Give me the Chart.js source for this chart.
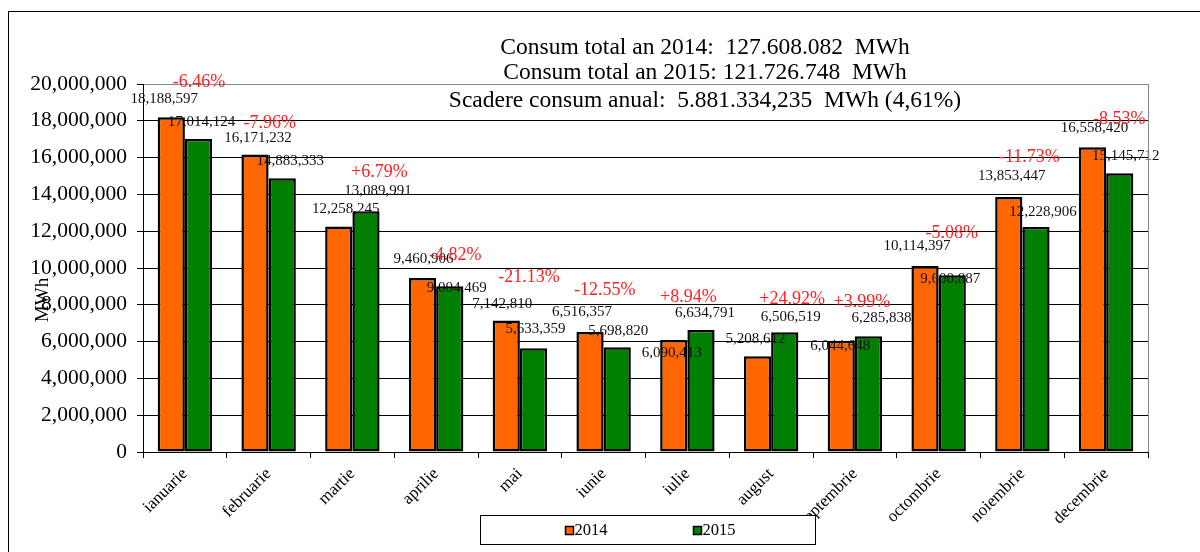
<!DOCTYPE html>
<html>
<head>
<meta charset="utf-8">
<script src="https://cdn.jsdelivr.net/npm/chart.js@4"></script>
<style>
  html, body { margin: 0; padding: 0; background: #fff; }
  #wrap { width: 1200px; height: 552px; position: relative; }
</style>
</head>
<body>
<div id="wrap"><canvas id="myChart" width="1200" height="552"></canvas></div>
<script>
const luni = ['ianuarie', 'februarie', 'martie', 'aprilie', 'mai', 'iunie',
  'iulie', 'august', 'septembrie', 'octombrie', 'noiembrie', 'decembrie'];

const consum2014 = [18188597, 16171232, 12258245, 9460906, 7142810, 6516357,
  6090413, 5208612, 6044648, 10114397, 13853447, 16558420];
const consum2015 = [17014124, 14883333, 13089991, 9004469, 5633359, 5698820,
  6634791, 6506519, 6285838, 9600887, 12228906, 15145712];

const variatie = ['-6.46%', '-7.96%', '+6.79%', '-4.82%', '-21.13%', '-12.55%',
  '+8.94%', '+24.92%', '+3.99%', '-5.08%', '-11.73%', '-8.53%'];

const yMin = 0;
const yMax = 20000000;
const yPas = 2000000;

const titlu = [
  'Consum total an 2014:  127.608.082  MWh',
  'Consum total an 2015: 121.726.748  MWh',
  'Scadere consum anual:  5.881.334,235  MWh (4,61%)'
];

// etichetele au fost mutate de mana, deplasari [dx, dy] in pixeli
const mutare2014 = [[-7,-1],[3,1],[7,0],[1,-2],[-4,0],[-8,-3],[-2,30],[-2,0],[-1,22],[-8,-3],[3,-4],[2,-2]];
const mutare2015 = [[3,0],[8,0],[12,-3],[7,19],[2,-2],[1,1],[4,0],[6,2],[13,-1],[-2,21],[7,2],[6,0]];
const mutareProc = [[14,0],[1,4],[27,-4],[19,12],[9,-8],[1,-7],[1,2],[21,2],[7,1],[13,2],[7,-5],[13,7]];

const SERIF = '"Liberation Serif", "Times New Roman", serif';
const PORTOCALIU = '#ff6600';
const VERDE = '#008000';

const fmt = v => v.toLocaleString('en-US');

const etichete = {
  id: 'etichete',
  afterDatasetsDraw(chart) {
    const ctx = chart.ctx;
    const m0 = chart.getDatasetMeta(0).data;
    const m1 = chart.getDatasetMeta(1).data;
    const xs = chart.scales.x;
    ctx.save();
    ctx.textAlign = 'center';
    ctx.textBaseline = 'middle';
    ctx.font = '15px ' + SERIF;
    ctx.fillStyle = '#111';
    m0.forEach((b, i) => {
      ctx.fillText(fmt(consum2014[i]), b.x + mutare2014[i][0], b.y - 17 + mutare2014[i][1]);
    });
    m1.forEach((b, i) => {
      ctx.fillText(fmt(consum2015[i]), b.x + mutare2015[i][0], b.y - 17 + mutare2015[i][1]);
    });
    ctx.font = '18px ' + SERIF;
    ctx.fillStyle = '#ff2020';
    luni.forEach((l, i) => {
      const cx = xs.getPixelForValue(i);
      const top = Math.min(m0[i].y, m1[i].y);
      ctx.fillText(variatie[i], cx + mutareProc[i][0], top - 35 + mutareProc[i][1]);
    });
    ctx.restore();
  },
  afterDraw(chart) {
    const ctx = chart.ctx;
    const a = chart.chartArea;
    ctx.save();
    // marginea din dreapta a zonei de desen
    ctx.strokeStyle = '#888';
    ctx.lineWidth = 1;
    ctx.beginPath();
    ctx.moveTo(a.right + 0.5, a.top);
    ctx.lineTo(a.right + 0.5, a.bottom);
    ctx.stroke();

    // chenarul exterior
    ctx.strokeStyle = '#000';
    ctx.strokeRect(8.5, 11.5, 1300, 700);

    // titlul pe trei randuri
    ctx.fillStyle = '#000';
    ctx.font = '23.5px ' + SERIF;
    ctx.textAlign = 'center';
    ctx.textBaseline = 'middle';
    [48, 73, 101].forEach((y, i) => ctx.fillText(titlu[i], 705, y));

    // titlul axei Y
    ctx.save();
    ctx.translate(43, 300);
    ctx.rotate(-Math.PI / 2);
    ctx.font = '19px ' + SERIF;
    ctx.fillText('MWh', 0, 0);
    ctx.restore();

    // legenda
    ctx.fillStyle = '#fff';
    ctx.fillRect(480.5, 515.5, 335, 29);
    ctx.strokeStyle = '#000';
    ctx.strokeRect(480.5, 515.5, 335, 29);
    const items = [[565, '2014', PORTOCALIU], [693, '2015', VERDE]];
    ctx.font = '16.5px ' + SERIF;
    ctx.textAlign = 'left';
    items.forEach(([x, t, c]) => {
      ctx.fillStyle = c;
      ctx.fillRect(x + 0.5, 526.5, 8, 8);
      ctx.strokeStyle = '#000';
      ctx.lineWidth = 1.5;
      ctx.strokeRect(x + 0.5, 526.5, 8, 8);
      ctx.fillStyle = '#000';
      ctx.fillText(t, x + 9.5, 531);
    });
    ctx.restore();
  }
};

new Chart(document.getElementById('myChart'), {
  type: 'bar',
  data: {
    labels: luni,
    datasets: [
      { label: '2014', data: consum2014, backgroundColor: PORTOCALIU, borderColor: '#000',
        borderWidth: 2.5, borderSkipped: false, categoryPercentage: 0.65, barPercentage: 1 },
      { label: '2015', data: consum2015, backgroundColor: VERDE, borderColor: '#000',
        borderWidth: 2.5, borderSkipped: false, categoryPercentage: 0.65, barPercentage: 1 }
    ]
  },
  options: {
    responsive: false,
    animation: false,
    devicePixelRatio: 1,
    layout: { padding: { left: 0, right: 52, top: 84, bottom: 0 } },
    plugins: {
      legend: { display: false },
      title: { display: false },
      tooltip: { enabled: false }
    },
    scales: {
      x: {
        grid: { display: true, drawOnChartArea: false, offset: true, tickLength: 6, color: '#000' },
        border: { color: '#000', width: 1 },
        ticks: { color: '#000', font: { family: SERIF, size: 17 }, maxRotation: 45, minRotation: 45,
          autoSkip: false, padding: 6 },
        afterFit: s => { s.height = 100; }
      },
      y: {
        min: yMin,
        max: yMax,
        grid: {
          color: c => (c.tick && c.tick.value === yMax) ? '#888' : '#000',
          tickColor: '#000',
          tickLength: 6,
          lineWidth: 1
        },
        border: { color: '#000', width: 1 },
        ticks: { stepSize: yPas, color: '#000', font: { family: SERIF, size: 21.5 }, padding: 10,
          callback: v => fmt(v) },
        afterFit: s => { s.width = 143; }
      }
    }
  },
  plugins: [etichete]
});
</script>
</body>
</html>
